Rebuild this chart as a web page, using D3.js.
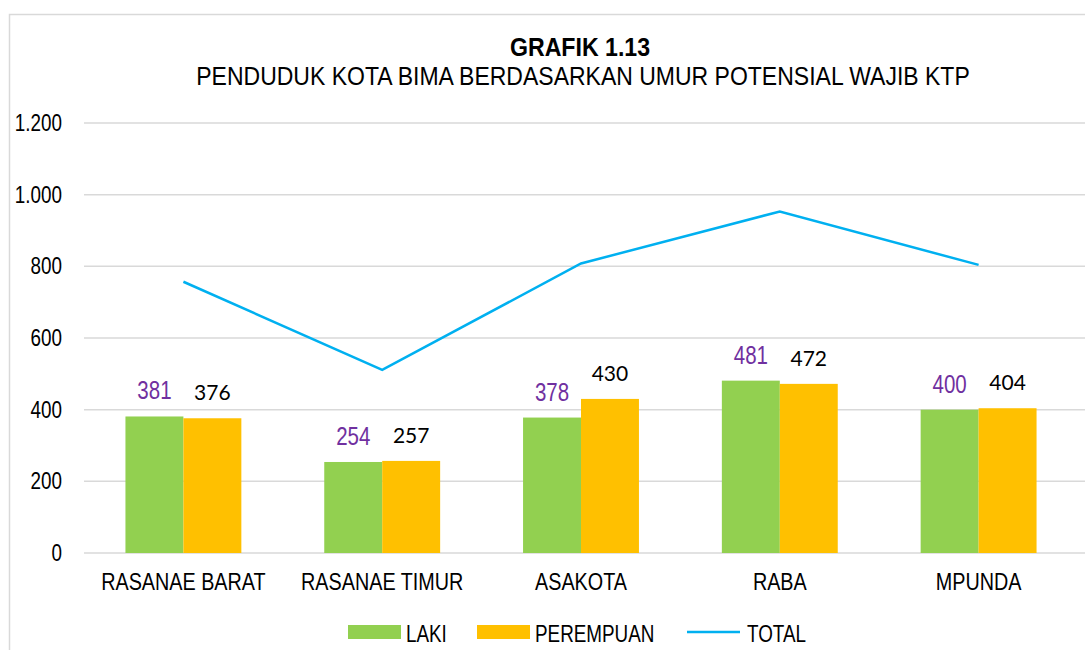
<!DOCTYPE html>
<html><head><meta charset="utf-8">
<script src="https://cdn.jsdelivr.net/npm/d3@7"></script>
<style>body{margin:0;background:#fff}svg{display:block}</style>
</head><body>
<svg id="c" width="1085" height="650"></svg>
<script>
const categories = ["RASANAE BARAT","RASANAE TIMUR","ASAKOTA","RABA","MPUNDA"];
const laki = [381,254,378,481,400];
const perempuan = [376,257,430,472,404];
const total = [757,511,808,953,804];
const yTicks = [0,200,400,600,800,1000,1200];
const tickLabels = ["0","200","400","600","800","1.000","1.200"];

(function(){
const SANS = "'Liberation Sans',Arial,sans-serif";
const svg = d3.select("#c");
const W = 1085, H = 650;
const pL = 84, pR = 1078, pT = 123, pB = 553;

function nText(parent, x, y, str, size, anchor, fill, weight, sx){
  const gg = parent.append("g").attr("transform", `translate(${x},${y}) scale(${sx||0.82},1)`);
  gg.append("text").attr("x",0).attr("y",0).attr("text-anchor",anchor)
    .attr("font-family",SANS).attr("font-size",size).attr("fill",fill||"#000")
    .attr("font-weight",weight||"normal").text(str);
  return gg;
}

svg.append("path").attr("d", `M9.5,${H} L9.5,14.5 L${W},14.5`).attr("fill","none").attr("stroke","#d9d9d9").attr("stroke-width",1.5);

const x = d3.scaleBand().domain(categories).range([pL, pR]).paddingInner(0.417).paddingOuter(0.2085);
const x1 = d3.scaleBand().domain(["laki","perempuan"]).range([0, x.bandwidth()]);
const y = d3.scaleLinear().domain([0,1200]).range([pB, pT]);

svg.append("g").selectAll("line").data(yTicks).join("line")
  .attr("x1", pL).attr("x2", W).attr("y1", d=>y(d)).attr("y2", d=>y(d))
  .attr("stroke","#d9d9d9").attr("stroke-width",1.5);

const yl = svg.append("g");
yTicks.forEach((d,i)=> nText(yl, 62, y(d)+8, tickLabels[i], 23, "end"));

const g = svg.append("g");
categories.forEach((c,i)=>{
  g.append("rect").attr("x", x(c)+x1("laki")).attr("width", x1.bandwidth())
    .attr("y", y(laki[i])).attr("height", y(0)-y(laki[i])).attr("fill","#92D050");
  g.append("rect").attr("x", x(c)+x1("perempuan")).attr("width", x1.bandwidth())
    .attr("y", y(perempuan[i])).attr("height", y(0)-y(perempuan[i])).attr("fill","#FFC000");
});
categories.forEach((c,i)=>{
  nText(g, x(c)+x1("laki")+x1.bandwidth()/2, y(laki[i]) - 17, laki[i], 25, "middle", "#7030A0");
  g.append("text").attr("x", x(c)+x1("perempuan")+x1.bandwidth()/2).attr("y", y(perempuan[i]) - 18)
    .attr("text-anchor","middle").attr("font-family","Lato,'Open Sans',sans-serif").attr("font-size",21).attr("fill","#000").text(perempuan[i]);
});

const xl = svg.append("g");
categories.forEach(c => nText(xl, x(c)+x.bandwidth()/2, 590, c, 23, "middle", "#000", "normal", 0.86));

const line = d3.line().x((d,i)=>x(categories[i])+x.bandwidth()/2).y(d=>y(d));
svg.append("path").datum(total).attr("d", line).attr("fill","none").attr("stroke","#00B0F0").attr("stroke-width",2.5);

nText(svg, 580, 56, "GRAFIK 1.13", 26, "middle", "#000", "bold", 0.89);
nText(svg, 583, 85, "PENDUDUK KOTA BIMA BERDASARKAN UMUR POTENSIAL WAJIB KTP", 25, "middle", "#000", "normal", 0.92);

const lg = svg.append("g");
lg.append("rect").attr("x",348).attr("y",625).attr("width",53).attr("height",14).attr("fill","#92D050");
nText(lg, 406, 642, "LAKI", 23, "start");
lg.append("rect").attr("x",477).attr("y",625).attr("width",53).attr("height",14).attr("fill","#FFC000");
nText(lg, 535, 642, "PEREMPUAN", 23, "start");
lg.append("line").attr("x1",687).attr("x2",740).attr("y1",632).attr("y2",632).attr("stroke","#00B0F0").attr("stroke-width",2.5);
nText(lg, 747, 642, "TOTAL", 23, "start");
})();
</script>
</body></html>
